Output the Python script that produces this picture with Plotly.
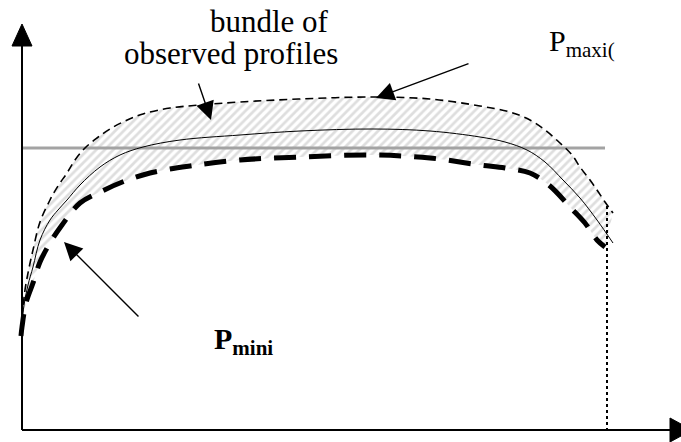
import plotly.graph_objects as go

# 스케치 좌표계: 가로 0~681, 세로 0~442 (위에서 아래로)
# 상한 프로파일 P maxi (가는 점선)
upper_x = [22, 25, 29, 33, 40, 50, 58, 67, 75, 85, 97, 110, 125, 143, 170, 200, 240,
           300, 373, 430, 480, 510, 530, 545, 560, 572, 580, 590, 597, 605, 613]
upper_y = [318, 290, 268, 250, 222, 200, 186, 173, 160, 148, 138, 129, 121, 114, 108, 105, 102,
           99, 97, 99, 106, 112, 120, 130, 143, 155, 167, 180, 190, 202, 213]

# 관측 프로파일 (가는 실선)
mid_x = [22, 24, 28, 33, 40, 50, 58, 67, 80, 100, 120, 143, 180, 240, 300, 373, 430,
         480, 505, 527, 545, 563, 580, 597, 613]
mid_y = [322, 305, 285, 267, 240, 220, 210, 200, 185, 167, 155, 147, 140, 135, 131, 129, 131,
         137, 142, 150, 162, 180, 198, 220, 243]

# 하한 프로파일 P mini (굵은 점선)
lower_x = [21, 22, 26, 33, 40, 50, 62, 80, 100, 125, 150, 190, 240, 300, 373, 430,
           480, 505, 530, 550, 570, 585, 597, 605]
lower_y = [336, 327, 303, 283, 262, 243, 225, 203, 192, 181, 173, 166, 160, 157, 155, 158,
           165, 168, 173, 186, 207, 223, 240, 247]

# 기준 수평선, 끝점 수직 점선
ref_x = [22, 605]
ref_y = [148, 148]
end_x = [607, 607]
end_y = [206, 430]

# 축
vaxis_x = [22, 22]
vaxis_y = [430, 40]
haxis_x = [22, 672]
haxis_y = [430, 430]
vhead_x = [12, 22, 32, 12]
vhead_y = [46, 24, 46, 46]
hhead_x = [670, 692, 670, 670]
hhead_y = [418, 430, 442, 418]

# 화살표 (꼬리 → 머리)
arrows = [
    ((198, 82), (211, 120)),
    ((470, 63), (376, 98)),
    ((140, 318), (64, 242)),
]

FONT = "Liberation Serif"

fig = go.Figure()

# 상한/하한 사이 빗금 영역 (상한 → 하한 tonexty)
fig.add_trace(go.Scatter(x=upper_x, y=upper_y, mode="lines", line_shape="spline",
                         line=dict(width=0), hoverinfo="skip"))
fig.add_trace(go.Scatter(x=lower_x, y=lower_y, mode="lines", line_shape="spline",
                         fill="tonexty", fillcolor="rgba(0,0,0,0)",
                         fillpattern=dict(shape="/", fgcolor="#bdbdbd", bgcolor="white",
                                          size=6, solidity=0.45),
                         line=dict(width=0), hoverinfo="skip"))

fig.add_trace(go.Scatter(x=ref_x, y=ref_y, mode="lines",
                         line=dict(color="#a3a3a3", width=3)))
fig.add_trace(go.Scatter(x=upper_x, y=upper_y, mode="lines", line_shape="spline",
                         line=dict(color="black", width=1.6, dash="8px,5px")))
fig.add_trace(go.Scatter(x=mid_x, y=mid_y, mode="lines", line_shape="spline",
                         line=dict(color="black", width=1)))
fig.add_trace(go.Scatter(x=lower_x, y=lower_y, mode="lines", line_shape="spline",
                         line=dict(color="black", width=5, dash="22px,13px")))
fig.add_trace(go.Scatter(x=end_x, y=end_y, mode="lines",
                         line=dict(color="black", width=2, dash="dot")))

# 축과 화살촉
for xs, ys in [(vaxis_x, vaxis_y), (haxis_x, haxis_y)]:
    fig.add_trace(go.Scatter(x=xs, y=ys, mode="lines", line=dict(color="black", width=2)))
for xs, ys in [(vhead_x, vhead_y), (hhead_x, hhead_y)]:
    fig.add_trace(go.Scatter(x=xs, y=ys, mode="lines", fill="toself", fillcolor="black",
                             line=dict(color="black", width=1)))

for (tx, ty), (hx, hy) in arrows:
    fig.add_annotation(x=hx, y=hy, ax=tx, ay=ty, xref="x", yref="y", axref="x", ayref="y",
                       text="", showarrow=True, arrowhead=2, arrowsize=2.6,
                       arrowwidth=1.4, arrowcolor="black")

fig.add_annotation(x=208, y=21, text="bundle of", showarrow=False, xanchor="left",
                   yanchor="middle", font=dict(family=FONT, size=31, color="black"))
fig.add_annotation(x=122, y=53, text="observed profiles", showarrow=False, xanchor="left",
                   yanchor="middle", font=dict(family=FONT, size=31, color="black"))
fig.add_annotation(x=547, y=43, text="P<sub>maxi(</sub>", showarrow=False, xanchor="left",
                   yanchor="middle", font=dict(family=FONT, size=30, color="black"))
fig.add_annotation(x=212, y=341, text="<b>P<sub>mini</sub></b>", showarrow=False,
                   xanchor="left", yanchor="middle",
                   font=dict(family=FONT, size=30, color="black"))

fig.update_layout(
    width=681, height=442,
    margin=dict(l=0, r=0, t=0, b=0),
    showlegend=False,
    plot_bgcolor="white", paper_bgcolor="white",
    xaxis=dict(range=[0, 681], visible=False, fixedrange=True),
    yaxis=dict(range=[442, 0], visible=False, fixedrange=True),
)

# 페이지 기본 여백 제거 (그림이 창 왼쪽 위에 붙도록)
fig.write_html("out.html", config={"displayModeBar": False},
               post_script="document.body.style.margin='0';")
